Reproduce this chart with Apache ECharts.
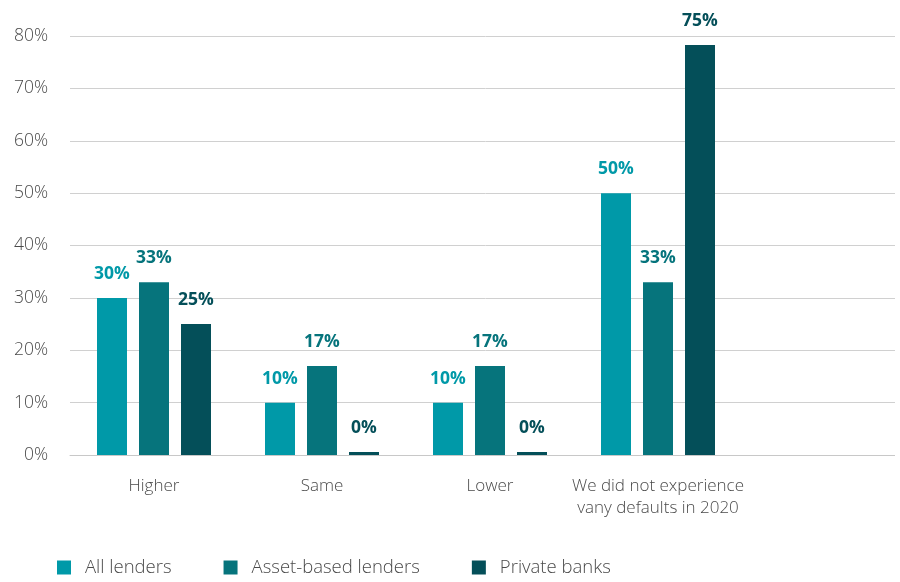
<!DOCTYPE html>
<html>
<head>
<meta charset="utf-8">
<script src="https://cdn.jsdelivr.net/npm/echarts@6/dist/echarts.min.js"></script>
<style>
  html, body { margin: 0; padding: 0; background: #fff; }
  #main { width: 900px; height: 582px; }
</style>
</head>
<body>
<div id="main"></div>
<script>
var categories = ['Higher', 'Same', 'Lower', 'We did not experience\nvany defaults in 2020', ''];
var allLenders = [30, 10, 10, 50];
var assetBased = [33, 17, 17, 33];
var privateBanks = [25, 0, 0, 78.3];
var privateLabels = ['25%', '0%', '0%', '75%'];
var yTicks = [0, 10, 20, 30, 40, 50, 60, 70, 80];

var colors = ['#0099a8', '#06747c', '#044f59'];
var font = '"Open Sans", sans-serif';

var myChart = echarts.init(document.getElementById('main'));

function labelFor(color, texts) {
    return {
        show: true,
        position: 'top',
        distance: 15,
        color: color,
        fontFamily: font,
        fontWeight: 'bold',
        fontSize: 17.5,
        formatter: function (p) {
            return texts ? texts[p.dataIndex] : p.value + '%';
        }
    };
}

var option = {
    color: colors,
    textStyle: { fontFamily: font },
    legend: {
        left: 52,
        bottom: 0,
        itemWidth: 14,
        itemHeight: 14,
        itemGap: 52,
        icon: 'rect',
        textStyle: { color: '#4a4a4a', fontSize: 18.5, fontWeight: 300, fontFamily: font, padding: [0, 0, 0, 9] },
        data: ['All lenders', 'Asset-based lenders', 'Private banks']
    },
    grid: {
        left: 70,
        width: 840,
        top: 36,
        bottom: 127,
        outerBoundsMode: 'none'
    },
    // gridlines in the original stop a few pixels short of the edge
    graphic: [{
        type: 'rect',
        right: 0,
        top: 30,
        shape: { width: 5, height: 430 },
        style: { fill: '#fff' },
        z: 100
    }],
    xAxis: [{
        type: 'category',
        data: categories,
        axisLine: { lineStyle: { color: '#c8c8c8', width: 1 } },
        axisTick: { show: false },
        axisLabel: {
            color: '#4a4a4a',
            fontSize: 17,
            fontWeight: 300,
            fontFamily: font,
            margin: 20,
            lineHeight: 22,
            interval: 0
        }
    }],
    yAxis: [{
        type: 'value',
        min: yTicks[0],
        max: yTicks[yTicks.length - 1],
        interval: 10,
        axisLine: { show: false },
        axisTick: { show: false },
        splitLine: { lineStyle: { color: '#d0d0d0', width: 1 } },
        axisLabel: {
            color: '#4a4a4a',
            fontSize: 17.5,
            fontWeight: 300,
            fontFamily: font,
            margin: 22,
            formatter: '{value}%'
        }
    }],
    series: [
        {
            name: 'All lenders',
            type: 'bar',
            barWidth: 30,
            barGap: '40%',
            data: allLenders,
            label: labelFor(colors[0])
        },
        {
            name: 'Asset-based lenders',
            type: 'bar',
            barWidth: 30,
            barGap: '40%',
            data: assetBased,
            label: labelFor(colors[1])
        },
        {
            name: 'Private banks',
            type: 'bar',
            barWidth: 30,
            barGap: '40%',
            barMinHeight: 3,
            data: privateBanks,
            label: labelFor(colors[2], privateLabels)
        }
    ]
};
myChart.setOption(option);
</script>
</body>
</html>
